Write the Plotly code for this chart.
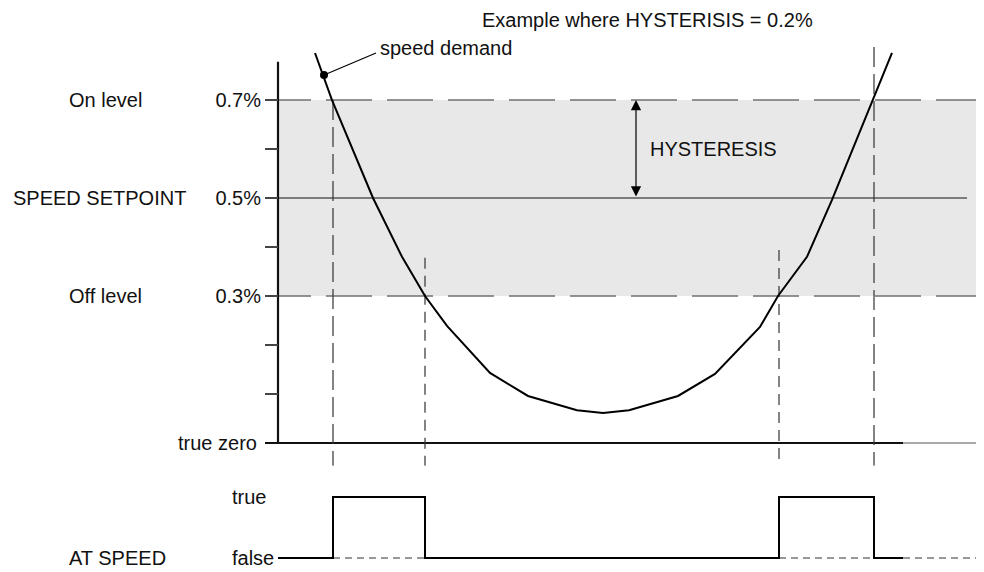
import plotly.graph_objects as go

FONT = "Liberation Sans, Arial, sans-serif"
TXT = "#111111"

# ---- data (time in arbitrary units, speed in %) ----
t_curve = [3.7, 5.4, 9.5, 12.4, 14.7, 16.9, 21.2, 25.0, 29.9, 32.5, 35.1,
           40.0, 43.7, 48.2, 50.0, 52.9, 55.4, 59.5, 61.4]
v_curve = [0.796, 0.70, 0.50, 0.38, 0.30, 0.239, 0.143, 0.096, 0.067, 0.061,
           0.067, 0.096, 0.141, 0.237, 0.30, 0.38, 0.496, 0.70, 0.796]

on_level = 0.7
setpoint = 0.5
off_level = 0.3
true_zero = 0.0
axis_top = 0.778

t_on1, t_off1, t_on2, t_off2 = 5.5, 14.7, 50.1, 59.6
t_start, t_left, t_end_solid, t_end = 0.0, -1.3, 62.5, 70.0
t_setpoint_end = 68.9

vline_long_tops = [0.70, 0.808]
vline_short_tops = [0.378, 0.394]
v_bottom = -0.26

sig_t = [t_start, t_on1, t_on1, t_off1, t_off1, t_on2, t_on2, t_off2, t_off2, t_end_solid]
sig_v = [0, 0, 1, 1, 0, 0, 1, 1, 0, 0]

tick_vals = [0.1, 0.2, 0.3, 0.4, 0.5, 0.6, 0.7]
tick_text = ["", "", "0.3%", "", "0.5%", "", "0.7%"]

dot_t, dot_v = 4.6, 0.751
lead_t, lead_v = 9.8, 0.796

fig = go.Figure()

# hysteresis band
fig.add_trace(go.Scatter(x=[t_start, t_end, t_end, t_start, t_start],
                         y=[off_level, off_level, on_level, on_level, off_level],
                         fill="toself", fillcolor="#e8e8e8", mode="none",
                         hoverinfo="skip"))

# on / off level dashed lines
fig.add_trace(go.Scatter(x=[t_left, t_end, None, t_left, t_end],
                         y=[on_level, on_level, None, off_level, off_level],
                         mode="lines", line=dict(color="#707070", width=1.5, dash="46px,15px")))
# setpoint line
fig.add_trace(go.Scatter(x=[t_left, t_setpoint_end], y=[setpoint, setpoint],
                         mode="lines", line=dict(color="#111111", width=1.2)))
# true zero
fig.add_trace(go.Scatter(x=[t_left, t_end_solid], y=[true_zero, true_zero],
                         mode="lines", line=dict(color="#111111", width=2.2)))
fig.add_trace(go.Scatter(x=[t_end_solid, t_end], y=[true_zero, true_zero],
                         mode="lines", line=dict(color="#555555", width=1)))
# vertical axis line
fig.add_trace(go.Scatter(x=[t_start, t_start], y=[true_zero, axis_top],
                         mode="lines", line=dict(color="#111111", width=2.2)))

# vertical dashed event lines
xl, yl = [], []
for t, top in zip([t_on1, t_off2], vline_long_tops):
    xl += [t, t, None]
    yl += [top, v_bottom, None]
fig.add_trace(go.Scatter(x=xl, y=yl, mode="lines",
                         line=dict(color="#333333", width=1.2, dash="20px,7px")))
xs, ys = [], []
for t, top in zip([t_off1, t_on2], vline_short_tops):
    xs += [t, t, None]
    ys += [top, v_bottom, None]
fig.add_trace(go.Scatter(x=xs, y=ys, mode="lines",
                         line=dict(color="#333333", width=1.2, dash="11px,7px")))

# speed demand curve
fig.add_trace(go.Scatter(x=t_curve, y=v_curve, mode="lines",
                         line=dict(color="#000000", width=2)))
# dot + leader
fig.add_trace(go.Scatter(x=[dot_t, lead_t], y=[dot_v, lead_v], mode="lines",
                         line=dict(color="#000000", width=1.2)))
fig.add_trace(go.Scatter(x=[dot_t], y=[dot_v], mode="markers",
                         marker=dict(color="#000000", size=8)))

# AT SPEED signal
fig.add_trace(go.Scatter(x=[t_on1, t_off1, None, t_on2, t_off2, None, t_end_solid, t_end],
                         y=[0, 0, None, 0, 0, None, 0, 0], yaxis="y2", mode="lines",
                         line=dict(color="#777777", width=1.5, dash="7px,5px")))
fig.add_trace(go.Scatter(x=sig_t, y=sig_v, yaxis="y2", mode="lines",
                         line=dict(color="#000000", width=2)))

ann = []
def label(x, y, text, xanchor="left", yref="y"):
    ann.append(dict(x=x, y=y, xref="x", yref=yref, text=text, showarrow=False,
                    xanchor=xanchor, yanchor="middle",
                    font=dict(family=FONT, size=20, color=TXT)))

label(20.2, 0.863, "Example where HYSTERISIS = 0.2%")
label(10.0, 0.806, "speed demand")
label(37.0, 0.60, "HYSTERESIS")
label(-21.1, on_level, "On level")
label(-26.7, setpoint, "SPEED SETPOINT")
label(-21.1, off_level, "Off level")
label(-1.9, true_zero, "true zero", xanchor="right")
label(-4.8, 1, "true", yref="y2")
label(-4.8, 0, "false", yref="y2")
label(-21.1, 0, "AT SPEED", yref="y2")

# hysteresis double arrow
ann.append(dict(x=35.8, y=on_level, ax=35.8, ay=setpoint, xref="x", yref="y",
                axref="x", ayref="y", showarrow=True, arrowhead=2, startarrowhead=2,
                arrowside="end+start", arrowsize=1.7, startarrowsize=1.7,
                arrowwidth=1.2, arrowcolor="#000000", text=""))

# the page adds an 8px body margin, so the axis ranges are set to compensate
fig.update_layout(
    width=984, height=572, margin=dict(l=0, r=0, t=0, b=0),
    paper_bgcolor="white", plot_bgcolor="white", showlegend=False,
    xaxis=dict(range=[-27.0, 71.4], visible=False, domain=[0, 1]),
    yaxis=dict(range=[-0.2796, 0.8878], domain=[0, 1], anchor="free",
               position=270 / 984, showgrid=False, zeroline=False, showline=False,
               tickvals=tick_vals, ticktext=tick_text, ticks="outside", ticklen=13,
               tickwidth=1.5, tickcolor="#444444",
               tickfont=dict(family=FONT, size=20, color=TXT)),
    yaxis2=dict(range=[-0.3607, 1.5147], domain=[0, 0.2], anchor="x", visible=False),
    annotations=ann,
)

fig.write_html("out.html")
